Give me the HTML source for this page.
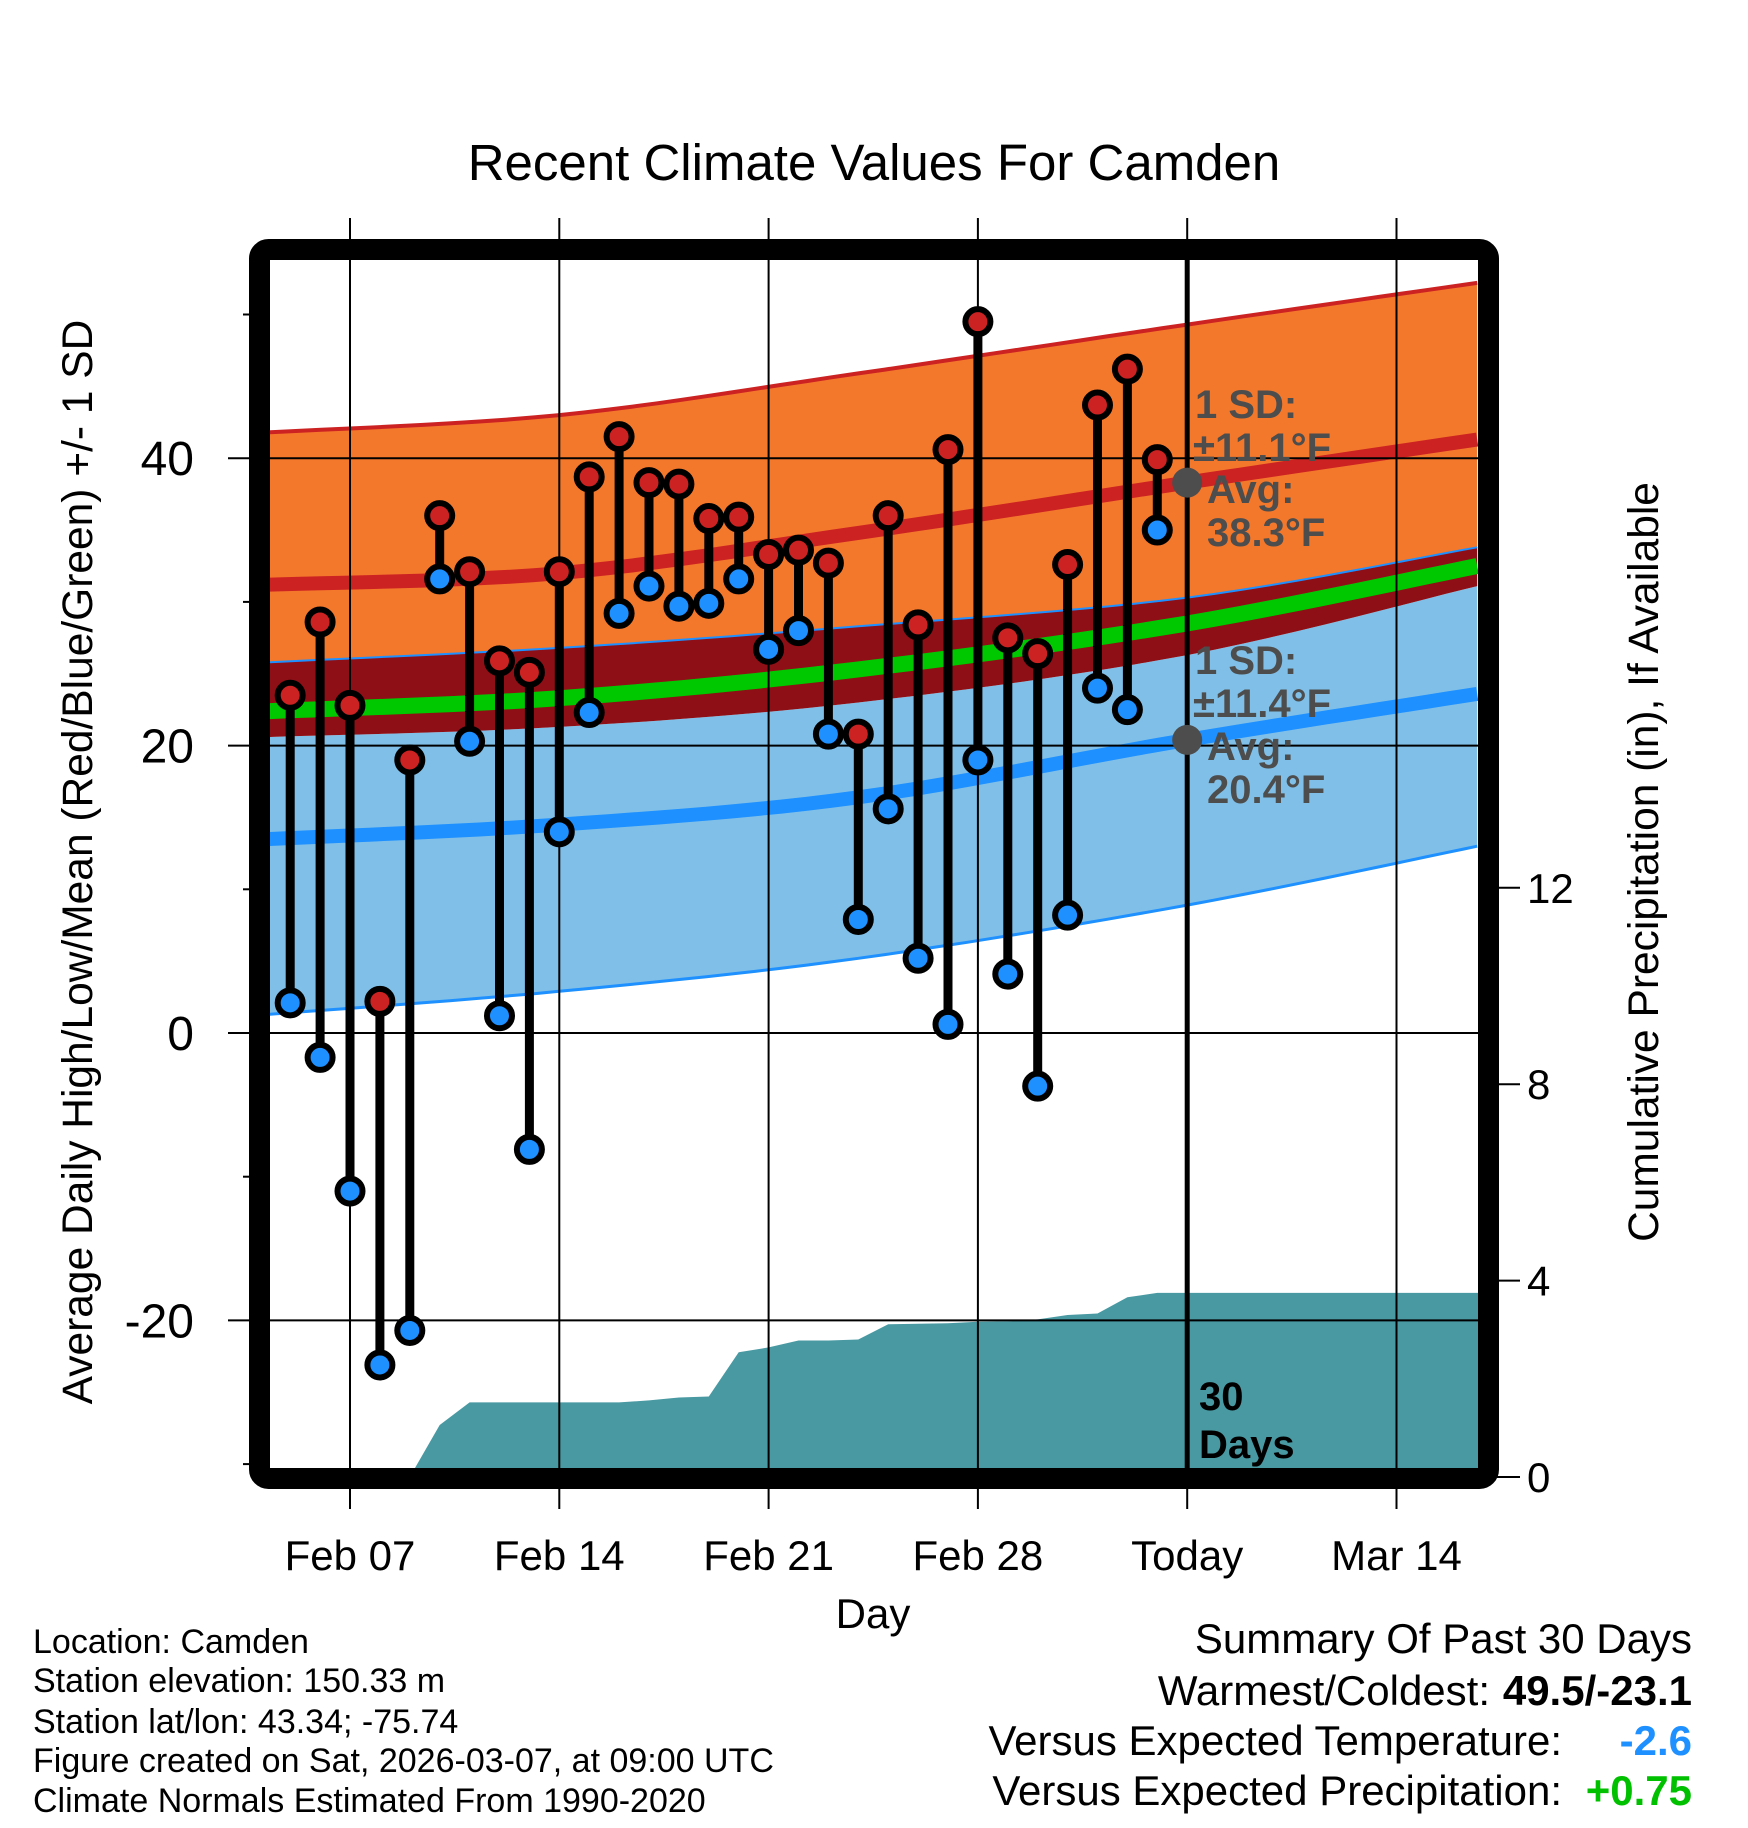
<!DOCTYPE html>
<html><head><meta charset="utf-8"><style>
html,body{margin:0;padding:0;background:#fff;}
svg{display:block;font-family:"Liberation Sans",Arial,sans-serif;}
</style></head><body>
<svg id="chart" width="1748" height="1828" viewBox="0 0 1748 1828" xmlns="http://www.w3.org/2000/svg">
<defs><clipPath id="plotclip"><rect x="270" y="260" width="1208" height="1208"/></clipPath></defs>
<text x="874" y="180" font-size="51" text-anchor="middle">Recent Climate Values For Camden</text>
<g id="bands" clip-path="url(#plotclip)"></g>
<g id="grid"></g>
<g id="marks" clip-path="url(#plotclip)"></g>
<rect x="259.5" y="249.5" width="1229" height="1229" rx="9" fill="none" stroke="#000" stroke-width="21"/>
<g id="axes"></g>
<text transform="translate(92,862) rotate(-90)" font-size="42.5" text-anchor="middle">Average Daily High/Low/Mean (Red/Blue/Green) +/- 1 SD</text>
<text transform="translate(1658,862) rotate(-90)" font-size="42.5" text-anchor="middle">Cumulative Precipitation (in), If Available</text>
<text x="873" y="1628" font-size="42" text-anchor="middle">Day</text>
<g font-size="34">
<text x="33" y="1653">Location: Camden</text>
<text x="33" y="1692">Station elevation: 150.33 m</text>
<text x="33" y="1733">Station lat/lon: 43.34; -75.74</text>
<text x="33" y="1772">Figure created on Sat, 2026-03-07, at 09:00 UTC</text>
<text x="33" y="1812">Climate Normals Estimated From 1990-2020</text>
</g>
<g font-size="42" text-anchor="end">
<text x="1692" y="1653">Summary Of Past 30 Days</text>
<text x="1490" y="1705">Warmest/Coldest:</text>
<text x="1692" y="1705" font-weight="bold">49.5/-23.1</text>
<text x="1562" y="1755">Versus Expected Temperature:</text>
<text x="1692" y="1755" font-weight="bold" fill="#1e90ff">-2.6</text>
<text x="1562" y="1805">Versus Expected Precipitation:</text>
<text x="1692" y="1805" font-weight="bold" fill="#00c000">+0.75</text>
</g>
<g font-size="40" font-weight="bold" fill="#4d4d4d">
<text x="1195" y="418">1 SD:</text>
<text x="1193" y="461">±11.1°F</text>
<text x="1207" y="503">Avg:</text>
<text x="1207" y="546">38.3°F</text>
<text x="1195" y="674">1 SD:</text>
<text x="1193" y="717">±11.4°F</text>
<text x="1207" y="760">Avg:</text>
<text x="1207" y="803">20.4°F</text>
</g>
<g font-size="40" font-weight="bold">
<text x="1199" y="1410">30</text>
<text x="1199" y="1458">Days</text>
</g>
</svg>
<script>
// ---- data ----
const highs = [23.5,28.6,22.8,2.2,19.0,36.0,32.1,25.9,25.1,32.1,38.7,41.5,38.3,38.2,35.8,35.9,33.3,33.6,32.7,20.8,36.0,28.4,40.6,49.5,27.5,26.4,32.6,43.7,46.2,39.9];
const lows = [2.1,-1.7,-11.0,-23.1,-20.7,31.6,20.3,1.2,-8.1,14.0,22.3,29.2,31.1,29.7,29.9,31.6,26.7,28.0,20.8,7.9,15.6,5.2,0.6,19.0,4.1,-3.7,8.2,24.0,22.5,35.0];
const precip = [0,0,0,0,0,1.06,1.52,1.52,1.52,1.52,1.52,1.52,1.56,1.62,1.64,2.54,2.64,2.78,2.78,2.80,3.11,3.12,3.13,3.16,3.17,3.21,3.30,3.33,3.66,3.75];
const normDays = [-2.7,7,17,28,37.7];
const hiUpper = [41.8,43.0,45.9,49.3,52.2];
const hiAvg = [31.2,32.0,34.8,38.3,41.3];
const hiLower = [25.8,26.8,28.3,30.3,33.8];
const meanAvg = [22.4,23.3,25.3,28.5,32.5];
const loUpper = [20.6,21.3,23.0,26.3,31.1];
const loAvg = [13.5,14.5,16.4,20.4,23.6];
const loLower = [1.3,2.9,5.2,8.9,13.0];
const yTicks = [-20,0,20,40];
const yMinor = [-30,-10,10,30,50];
const pTicks = [0,4,8,12];
const xTickDays = [0,7,14,21,28,35];
const xTickLabels = ["Feb 07","Feb 14","Feb 21","Feb 28","Today","Mar 14"];
const todayDay = 28;
const todayHigh = 38.3, todayLow = 20.4;

// ---- scales ----
const X0=350, DX=29.9, Y0=1033, DY=14.37, P0=1477, DP=49.1;
const xs = d => X0 + d*DX;
const ys = v => Y0 - v*DY;
const yp = p => P0 - p*DP;
const NS="http://www.w3.org/2000/svg";
function mk(tag, parent, attrs){const e=document.createElementNS(NS,tag);for(const k in attrs)e.setAttribute(k,attrs[k]);parent.appendChild(e);return e;}
// smooth curve through normal values (Catmull-Rom sampling)
function curve(arr){const pts=[];const n=normDays.length;
 for(let i=0;i<n-1;i++){
  const d0=normDays[Math.max(i-1,0)],d1=normDays[i],d2=normDays[i+1],d3=normDays[Math.min(i+2,n-1)];
  const v0=arr[Math.max(i-1,0)],v1=arr[i],v2=arr[i+1],v3=arr[Math.min(i+2,n-1)];
  for(let s=0;s<=12;s++){const t=s/12,t2=t*t,t3=t2*t;
   const cr=(a,b,c,d)=>0.5*((2*b)+(-a+c)*t+(2*a-5*b+4*c-d)*t2+(-a+3*b-3*c+d)*t3);
   pts.push([xs(cr(d0,d1,d2,d3)),ys(cr(v0,v1,v2,v3))]);}}
 return pts;}
function band(a,b){const p1=curve(a),p2=curve(b).reverse();return "M"+p1.concat(p2).map(p=>p[0].toFixed(1)+","+p[1].toFixed(1)).join("L")+"Z";}
function line(a){return "M"+curve(a).map(p=>p[0].toFixed(1)+","+p[1].toFixed(1)).join("L");}

const bands=document.getElementById('bands');
let e;
e=mk('path',bands,{d:band(hiUpper,hiLower),fill:'#f4782c'});


e=mk('path',bands,{d:band(loUpper,loLower),fill:'#80c0e8'});


e=mk('path',bands,{d:band(hiLower,loUpper),fill:'#8e0f15'});


e=mk('path',bands,{d:line(hiUpper),fill:'none',stroke:'#cc2222','stroke-width':4});


e=mk('path',bands,{d:line(hiLower),fill:'none',stroke:'#1e90ff','stroke-width':2});


e=mk('path',bands,{d:line(loLower),fill:'none',stroke:'#1e90ff','stroke-width':3});


e=mk('path',bands,{d:line(hiAvg),fill:'none',stroke:'#cc2222','stroke-width':14});


e=mk('path',bands,{d:line(loAvg),fill:'none',stroke:'#1e90ff','stroke-width':14});


e=mk('path',bands,{d:line(meanAvg),fill:'none',stroke:'#00c800','stroke-width':16});


// precip area
let pd="M"+xs(-2)+","+yp(0);
precip.forEach((p,i)=>{pd+="L"+xs(i-2).toFixed(1)+","+yp(p).toFixed(1);});
pd+="L1480,"+yp(precip[precip.length-1]).toFixed(1)+"L1480,"+yp(0)+"Z";
e=mk('path',bands,{d:pd,fill:'#4899a2'});



// grid
const grid=document.getElementById('grid');
yTicks.forEach(v=>{e=mk('line',grid,{x1:270,x2:1478,y1:ys(v),y2:ys(v),stroke:'#000','stroke-width':2});

});
xTickDays.forEach(d=>{e=mk('line',grid,{x1:xs(d),x2:xs(d),y1:218,y2:1509,stroke:'#000','stroke-width':2});

});

// marks
const marks=document.getElementById('marks');
highs.forEach((h,i)=>{const x=xs(i-2);
e=mk('line',marks,{x1:x,x2:x,y1:ys(h),y2:ys(lows[i]),stroke:'#000','stroke-width':9});


e=mk('circle',marks,{cx:x,cy:ys(h),r:12.5,fill:'#cc2222',stroke:'#000','stroke-width':6});


e=mk('circle',marks,{cx:x,cy:ys(lows[i]),r:12.5,fill:'#1e90ff',stroke:'#000','stroke-width':6});

});
e=mk('line',marks,{x1:xs(todayDay),x2:xs(todayDay),y1:218,y2:1470,stroke:'#000','stroke-width':5});


e=mk('circle',marks,{cx:xs(todayDay),cy:ys(todayHigh),r:15,fill:'#4d4d4d'});


e=mk('circle',marks,{cx:xs(todayDay),cy:ys(todayLow),r:15,fill:'#4d4d4d'});



// axes
const axes=document.getElementById('axes');
yTicks.forEach(v=>{e=mk('line',axes,{x1:228,x2:249,y1:ys(v),y2:ys(v),stroke:'#000','stroke-width':2});


e=mk('text',axes,{x:194,y:ys(v)+17,'font-size':48,'text-anchor':'end'});e.textContent=v;

});
yMinor.forEach(v=>{e=mk('line',axes,{x1:243,x2:249,y1:ys(v),y2:ys(v),stroke:'#000','stroke-width':2});

});
pTicks.forEach(p=>{e=mk('line',axes,{x1:1496,x2:1520,y1:yp(p),y2:yp(p),stroke:'#000','stroke-width':2});


e=mk('text',axes,{x:1527,y:yp(p)+15,'font-size':42});e.textContent=p;

});
xTickDays.forEach((d,i)=>{e=mk('text',axes,{x:xs(d),y:1570,'font-size':42,'text-anchor':'middle'});e.textContent=xTickLabels[i];

});
</script>
</body></html>
